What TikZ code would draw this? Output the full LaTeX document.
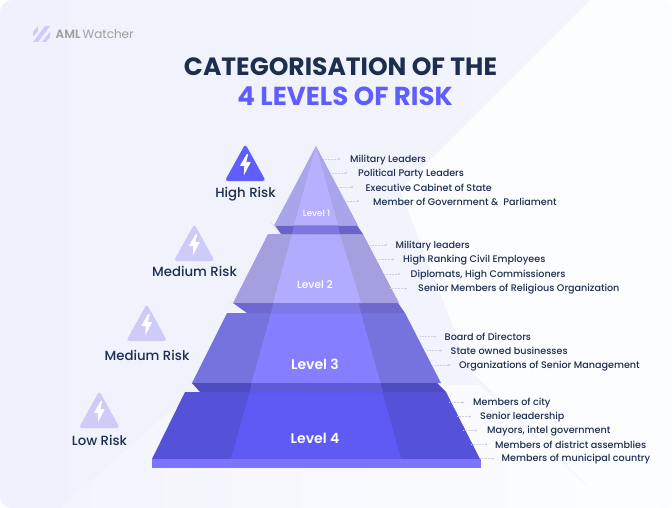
\documentclass[tikz,border=0pt]{standalone}
\usepackage{fontspec}
\setmainfont{Poppins}
\newfontfamily\medf{Poppins Medium}
\newfontfamily\semif{Poppins SemiBold}
\definecolor{ink}{HTML}{1D2E4F}
\definecolor{accent}{HTML}{5F5DFB}
\definecolor{iconoff}{HTML}{CDCBF8}
\definecolor{dotc}{HTML}{CDD0DC}
\definecolor{bgleft}{HTML}{EFF1FC}
\definecolor{bgmid}{HTML}{F4F6FD}
\definecolor{bglow}{HTML}{F3F5FD}
\definecolor{bgpale}{HTML}{FCFDFF}
\definecolor{lfoursd}{HTML}{5552D9}
\definecolor{lfourmd}{HTML}{5F5AF4}
\definecolor{basec}{HTML}{7C74FF}
\definecolor{lthreesd}{HTML}{7673DF}
\definecolor{lthreemd}{HTML}{857FFF}
\definecolor{btfsd}{HTML}{4F4BC0}
\definecolor{btfmd}{HTML}{5F5AD8}
\definecolor{ltwosd}{HTML}{A4A0E0}
\definecolor{ltwomd}{HTML}{B2ACFF}
\definecolor{btwsd}{HTML}{6E68CF}
\definecolor{btwmd}{HTML}{7F79E8}
\definecolor{lonesd}{HTML}{A9A5EA}
\definecolor{lonemd}{HTML}{B6B0FF}
\definecolor{bonsd}{HTML}{6A64C8}
\definecolor{bonmd}{HTML}{7D77DE}
\tikzset{
  x=1pt,y=-1pt,
  item/.style={anchor=west,inner sep=0pt,text=ink,font=\medf\fontsize{9.6}{11}\selectfont},
  risk/.style={anchor=center,inner sep=0pt,text=ink,font=\medf\fontsize{13.3}{15}\selectfont},
  lvl/.style={anchor=center,inner sep=0pt,text=white},
  leader/.style={dotc,line width=.5pt,densely dotted},
  tip/.style={circle,fill=dotc,minimum size=2.4pt,inner sep=0pt},
  shadowtip/.style={fill=black!25,opacity=.35},
}
% icon: #1 name, #2 centre x, #3 apex y, #4 colour
\newcommand{\riskicon}[4]{
  \begin{scope}[shift={(#2,#3)}]
    \fill[#4,rounded corners=3.2pt] (0,-2) -- (20.5,35) -- (-20.5,35) -- cycle;
    \fill[white,rounded corners=.5pt] (1.5,8) -- (-5.5,20) -- (-1,20) -- (-1.5,29.5) -- (5.5,16) -- (1,16) -- (3,8) -- cycle;
    \coordinate (#1) at (0,0);
  \end{scope}
}
\begin{document}
\begin{tikzpicture}
\useasboundingbox (0,0) rectangle (672,508);
% background
\fill[white] (0,0) rectangle (672,508);
\begin{scope}
  \clip[rounded corners=12pt] (0,0) rectangle (672,508);
  \shade[left color=bgleft,right color=bgmid] (0,0) rectangle (672,508);
  \shade[left color=bglow,right color=bgpale] (60,508) -- (200,385) -- (480,385) -- (610,508) -- cycle;
  \fill[bgpale] (590,0) -- (672,0) -- (672,508) -- (610,508) -- (470,370) -- (400,190) -- cycle;
\end{scope}

% logo
\fill[iconoff] (33,32) -- (38,26) -- (38,31) -- (33,37) -- cycle;
\fill[iconoff] (33,42) -- (45,26) -- (50,26) -- (38,42) -- cycle;
\fill[iconoff] (42,42) -- (50,32) -- (50,37) -- (46,42) -- cycle;
\node[anchor=west,inner sep=0pt,text=black!38,font=\fontsize{12}{15}\selectfont] (logo) at (55.5,34.5) {{\semif AML}\,Watcher};

% title
\node[inner sep=0pt,text=ink,font=\bfseries\fontsize{25}{27}\selectfont] (title1) at (340.5,67) {CATEGORISATION OF THE};
\node[inner sep=0pt,text=accent,font=\bfseries\fontsize{26}{27}\selectfont] (title2) at (345,96) {4 LEVELS OF RISK};

% pyramid: level 4
\fill[lfoursd] (185,392) -- (446,392) -- (480,459) -- (152,459) -- cycle;
\fill[lfourmd] (249.6,392) -- (382.4,392) -- (401,459) -- (231,459) -- cycle;
\fill[basec] (152,459) rectangle (481,467.5);
% level 3
\fill[lthreesd] (227,313) -- (405,313) -- (441,383) -- (192,383) -- cycle;
\fill[lthreemd] (271.1,313) -- (360.9,313) -- (380.5,383) -- (251.5,383) -- cycle;
% band 3-4
\fill[shadowtip] (187,378) -- (192,383) -- (200,392) -- cycle;
\fill[btfsd] (192,383) -- (437,383) -- (446,392) -- (200,392) -- cycle;
\fill[btfmd] (251.5,383) -- (380.5,383) -- (383,392) -- (249.6,392) -- cycle;
% level 2
\fill[ltwosd] (268,234) -- (363,234) -- (399,303) -- (233,303) -- cycle;
\fill[ltwomd] (292,234) -- (340,234) -- (361,303) -- (273,303) -- cycle;
% band 2-3
\fill[shadowtip] (228,300) -- (233,303) -- (247,313) -- cycle;
\fill[btwsd] (233,303) -- (398,303) -- (405,313) -- (247,313) -- cycle;
\fill[btwmd] (273.4,303) -- (358.6,303) -- (361,313) -- (271,313) -- cycle;
% level 1
\fill[lonesd] (316,146) -- (358,225.5) -- (274,225.5) -- cycle;
\fill[lonemd] (316,146) -- (338,225.5) -- (294,225.5) -- cycle;
% band 1-2
\fill[shadowtip] (270,222) -- (275,225.5) -- (281,234) -- cycle;
\fill[bonsd] (275,225.5) -- (357,225.5) -- (363,234) -- (281,234) -- cycle;
\fill[bonmd] (294,225.5) -- (338,225.5) -- (340,234) -- (292,234) -- cycle;

% level labels
\node[lvl,font=\medf\fontsize{8.7}{9}\selectfont] (l1) at (316.5,213.5) {Level 1};
\node[lvl,font=\medf\fontsize{10.6}{12}\selectfont] (l2) at (315,285) {Level 2};
\node[lvl,font=\semif\fontsize{14}{14}\selectfont] (l3) at (315,364.5) {Level 3};
\node[lvl,font=\semif\fontsize{14}{14}\selectfont] (l4) at (315,438.5) {Level 4};

% risk icons and labels
\riskicon{ih}{245.3}{146}{accent}
\riskicon{im}{194.3}{226}{iconoff}
\riskicon{is}{146.7}{306}{iconoff}
\riskicon{il}{99.3}{393}{iconoff}
\node[risk] (rh) at (245.5,194) {High Risk};
\node[risk] (rm) at (194.5,271.5) {Medium Risk};
\node[risk] (rs) at (147,355.5) {Medium Risk};
\node[risk] (rl) at (99.5,440.5) {Low Risk};

% lists: id / line start / dot x / y / text x / text
\foreach \n/\s/\d/\y/\t/\txt in {
  a/323/339/159/350/{Military Leaders},
  b/330/346/173/358/{Political Party Leaders},
  c/338/352/187/365.5/{Executive Cabinet of State},
  d/345/358/201/373/{Member of Government \&\ \ Parliament},
  e/370/386/245/395.5/{Military leaders},
  f/377/393/259.5/403/{High Ranking Civil Employees},
  g/384/399/274/410.5/{Diplomats, High Commissioners},
  h/390/406/288.5/418/{Senior Members of Religious Organization},
  i/420/435/336.5/444.5/{Board of Directors},
  j/427/441/350.5/450.5/{State owned businesses},
  k/435/449/365/459/{Organizations of Senior Management},
  m/449/463/402.5/473/{Members of city},
  n/457/470/416.5/480/{Senior leadership},
  o/463/476/430.5/487/{Mayors, intel government},
  p/471/486/444.5/495/{Members of district assemblies},
  q/480/493/458.5/501.5/{Members of municipal country}%
}{
  \coordinate (s\n) at (\s,\y);
  \node[tip] (d\n) at (\d,\y) {};
  \node[item] (t\n) at (\t,\y+.7) {\txt};
  \draw[leader] (s\n) -- (d\n);
}
\end{tikzpicture}
\end{document}
